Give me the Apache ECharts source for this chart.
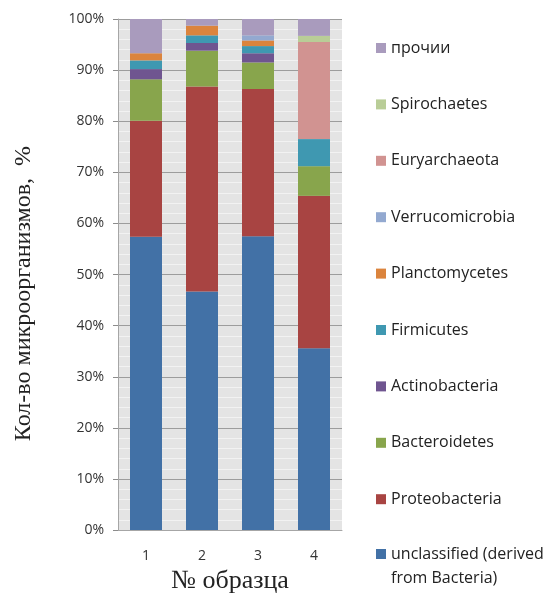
<!DOCTYPE html>
<html>
<head>
<meta charset="utf-8">
<script src="https://cdn.jsdelivr.net/npm/echarts@6/dist/echarts.min.js"></script>
<style>
html,body{margin:0;padding:0;background:#fff;}
#c{width:544px;height:599px;}
</style>
</head>
<body>
<div id="c"></div>
<script>
const categories = ['1', '2', '3', '4'];
const seriesNames = ['unclassified (derived from Bacteria)', 'Proteobacteria', 'Bacteroidetes', 'Actinobacteria', 'Firmicutes', 'Planctomycetes', 'Verrucomicrobia', 'Euryarchaeota', 'Spirochaetes', 'прочии'];
const unclassified = [57.4, 46.7, 57.5, 35.6];
const proteobacteria = [22.7, 40.1, 28.8, 29.8];
const bacteroidetes = [8.1, 7.0, 5.2, 5.8];
const actinobacteria = [2.0, 1.5, 1.8, 0];
const firmicutes = [1.7, 1.5, 1.4, 5.3];
const planctomycetes = [1.4, 1.9, 1.1, 0];
const verrucomicrobia = [0, 0, 1.0, 0];
const euryarchaeota = [0, 0, 0, 19.0];
const spirochaetes = [0, 0, 0, 1.2];
const others = [6.7, 1.3, 3.2, 3.3];
const seriesValues = [unclassified, proteobacteria, bacteroidetes, actinobacteria, firmicutes, planctomycetes, verrucomicrobia, euryarchaeota, spirochaetes, others];
const colors = ['#4271a6', '#a84442', '#88a54c', '#6f5590', '#3f98b1', '#db843d', '#93a9d0', '#d19391', '#b9cd97', '#a99bbd'];
const yTicks = [0, 10, 20, 30, 40, 50, 60, 70, 80, 90, 100];

const chart = echarts.init(document.getElementById('c'), null, {renderer: 'canvas'});
const sansFont = 'Open Sans';
const serifFont = 'Liberation Serif';

const series = seriesNames.map((n, i) => ({
  name: n,
  type: 'bar',
  stack: 'total',
  barWidth: 32,
  data: seriesValues[i],
  itemStyle: {color: colors[i]},
  emphasis: {disabled: true}
}));

const legendNames = seriesNames.slice(1).reverse();

chart.setOption({
  animation: false,
  color: colors,
  grid: {left: 118, right: 202, top: 19, bottom: 68, show: true, backgroundColor: '#e4e4e4', borderWidth: 0},
  xAxis: {
    type: 'category',
    data: categories,
    axisLine: {show: true, lineStyle: {color: '#a6a6a6'}},
    axisTick: {show: false},
    axisLabel: {fontFamily: sansFont, fontSize: 14, color: '#333', margin: 19},
    name: '№ образца',
    nameLocation: 'middle',
    nameGap: 36,
    nameTextStyle: {fontFamily: serifFont, fontSize: 26, color: '#222'}
  },
  yAxis: {
    type: 'value',
    min: yTicks[0],
    max: yTicks[yTicks.length - 1],
    interval: 10,
    axisLine: {show: true, lineStyle: {color: '#a6a6a6'}},
    axisTick: {show: true, length: 5, lineStyle: {color: '#8c8c8c'}},
    axisLabel: {fontFamily: sansFont, fontSize: 14, color: '#333', margin: 14, formatter: '{value}%'},
    splitLine: {show: true, lineStyle: {color: '#9c9c9c', width: 1}},
    minorTick: {show: false, splitNumber: 5},
    minorSplitLine: {show: true, lineStyle: {color: '#f2f2f2', width: 1}},
    name: 'Кол-во микроорганизмов,  %',
    nameLocation: 'middle',
    nameGap: 82,
    nameTextStyle: {fontFamily: serifFont, fontSize: 24, color: '#222', padding: [0, 38, 0, 0]}
  },
  legend: [{
    orient: 'vertical',
    left: 371,
    top: 33,
    itemWidth: 10,
    itemHeight: 10,
    itemGap: 36.4,
    selectedMode: false,
    icon: 'rect',
    data: legendNames,
    textStyle: {fontFamily: sansFont, fontSize: 16, color: '#222', lineHeight: 20}
  }, {
    orient: 'vertical',
    left: 371,
    top: 513,
    itemWidth: 10,
    itemHeight: 10,
    selectedMode: false,
    icon: 'rect',
    data: [seriesNames[0]],
    formatter: function () { return ' \nunclassified (derived\nfrom Bacteria)'; },
    textStyle: {fontFamily: sansFont, fontSize: 16, color: '#222', lineHeight: 24}
  }],
  series: series
});
</script>
</body>
</html>
